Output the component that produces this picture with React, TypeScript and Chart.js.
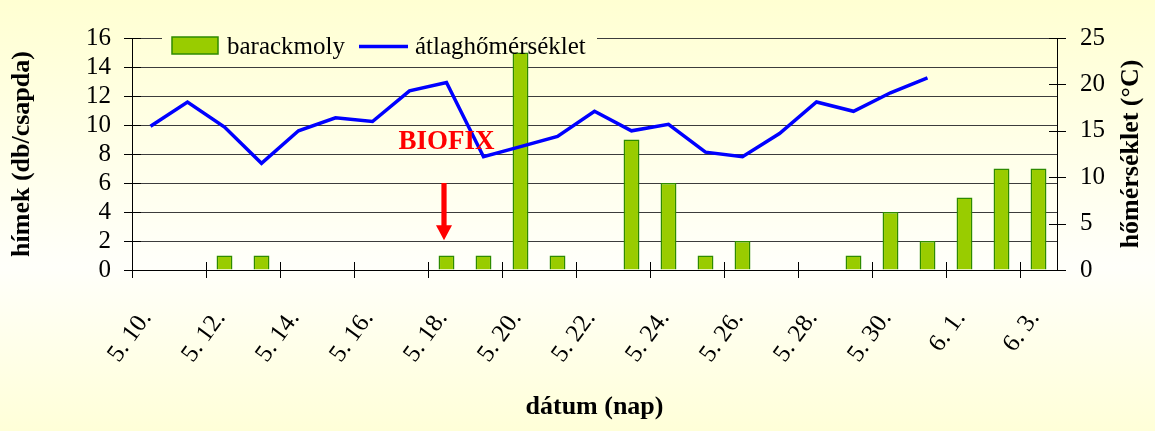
import React, { useEffect, useRef } from 'react';
import { Chart, registerables } from 'chart.js';

Chart.register(...registerables);

// ---- data ----
const dates = [
  '5. 10.', '5. 11.', '5. 12.', '5. 13.', '5. 14.', '5. 15.', '5. 16.', '5. 17.', '5. 18.', '5. 19.',
  '5. 20.', '5. 21.', '5. 22.', '5. 23.', '5. 24.', '5. 25.', '5. 26.', '5. 27.', '5. 28.', '5. 29.',
  '5. 30.', '5. 31.', '6. 1.', '6. 2.', '6. 3.',
];
const mothCounts = [0, 0, 1, 1, 0, 0, 0, 0, 1, 1, 15, 1, 0, 9, 6, 1, 2, 0, 0, 1, 4, 2, 5, 7, 7];
const avgTemps = [
  15.5, 18.1, 15.4, 11.5, 15.0, 16.4, 16.0, 19.3, 20.2, 12.2,
  13.3, 14.4, 17.1, 15.0, 15.7, 12.7, 12.2, 14.7, 18.1, 17.1,
  19.1, 20.7, null, null, null,
];
const countTicks = [0, 2, 4, 6, 8, 10, 12, 14, 16];
const tempTicks = [0, 5, 10, 15, 20, 25];
const biofixIndex = 8; // 5. 18.
const biofixLabel = 'BIOFIX';
const seriesNames = ['barackmoly', 'átlaghőmérséklet'];

// ---- styles ----
const FONT = 'Liberation Serif';
const BAR_FILL = '#99CC00';
const BAR_BORDER = '#2E8B00';
const LINE_COLOR = '#0000FF';
const GRID_COLOR = '#3C3C3C';
const BG_STOPS: [number, string][] = [
  [0, '#FFFFD2'],
  [0.62, '#FFFFFA'],
  [1, '#FFFFD8'],
];

const decorPlugin = {
  id: 'decor',
  beforeDatasetsDraw(chart: any) {
    const { ctx } = chart;
    ctx.save();
    const g = ctx.createLinearGradient(0, 0, 0, chart.height);
    BG_STOPS.forEach(([o, c]) => g.addColorStop(o, c));
    ctx.fillStyle = g;
    ctx.fillRect(162, 28, 435, 38);
    ctx.restore();
  },
  afterDatasetsDraw(chart: any) {
    const { ctx, scales } = chart;
    const x = scales.x;
    const y = scales.y;
    const y2 = scales.y2;
    ctx.save();
    // tick marks crossing the axes
    ctx.strokeStyle = '#000';
    ctx.lineWidth = 1;
    ctx.beginPath();
    y.ticks.forEach((t: any) => {
      const py = Math.round(y.getPixelForValue(t.value)) + 0.5;
      ctx.moveTo(y.right - 8, py);
      ctx.lineTo(y.right + 9, py);
    });
    y2.ticks.forEach((t: any) => {
      const py = Math.round(y2.getPixelForValue(t.value)) + 0.5;
      ctx.moveTo(y2.left - 8, py);
      ctx.lineTo(y2.left + 9, py);
    });
    const half = (x.getPixelForValue(1) - x.getPixelForValue(0)) / 2;
    for (let i = 0; i < dates.length; i += 2) {
      const px = Math.round(x.getPixelForValue(i) - half) + 0.5;
      ctx.moveTo(px, x.top - 8);
      ctx.lineTo(px, x.top + 8);
    }
    ctx.stroke();

    // legend
    ctx.fillStyle = BAR_FILL;
    ctx.strokeStyle = BAR_BORDER;
    ctx.lineWidth = 1.5;
    ctx.fillRect(172, 37, 46, 17);
    ctx.strokeRect(172, 37, 46, 17);
    ctx.font = `25px "${FONT}"`;
    ctx.fillStyle = '#000';
    ctx.textAlign = 'left';
    ctx.textBaseline = 'alphabetic';
    ctx.fillText(seriesNames[0], 227, 54);
    ctx.strokeStyle = LINE_COLOR;
    ctx.lineWidth = 3.5;
    ctx.beginPath();
    ctx.moveTo(359, 46.5);
    ctx.lineTo(408, 46.5);
    ctx.stroke();
    ctx.fillText(seriesNames[1], 415, 54);

    // BIOFIX annotation
    const bx = x.getPixelForValue(biofixIndex);
    ctx.fillStyle = '#FF0000';
    ctx.font = `bold 27px "${FONT}"`;
    ctx.textAlign = 'center';
    ctx.fillText(biofixLabel, bx, y.getPixelForValue(8.35));
    const ax = bx - 2.5;
    const top = y.getPixelForValue(6);
    const tip = y.getPixelForValue(2.05);
    ctx.fillRect(ax - 2.6, top, 5.2, tip - top - 12);
    ctx.beginPath();
    ctx.moveTo(ax - 8, tip - 15);
    ctx.lineTo(ax + 8, tip - 15);
    ctx.lineTo(ax, tip);
    ctx.closePath();
    ctx.fill();
    ctx.restore();
  },
  afterDraw(chart: any) {
    const { ctx, scales } = chart;
    const y = scales.y;
    ctx.save();
    ctx.translate(1131, (y.top + y.bottom) / 2);
    ctx.rotate(-Math.PI / 2);
    ctx.font = `bold 26px "${FONT}"`;
    ctx.fillStyle = '#000';
    ctx.textAlign = 'center';
    ctx.textBaseline = 'middle';
    ctx.fillText('hőmérséklet (°C)', 0, 0);
    ctx.restore();
  },
};

export default function App() {
  const ref = useRef<HTMLCanvasElement | null>(null);

  useEffect(() => {
    if (!ref.current) return;
    Chart.defaults.font.family = FONT;
    Chart.defaults.color = '#000';
    const chart = new Chart(ref.current, {
      type: 'bar',
      data: {
        labels: dates,
        datasets: [
          {
            type: 'line',
            label: seriesNames[1],
            data: avgTemps,
            yAxisID: 'y2',
            borderColor: LINE_COLOR,
            borderWidth: 3.5,
            pointRadius: 0,
            tension: 0,
            spanGaps: false,
            order: 0,
          } as any,
          {
            type: 'bar',
            label: seriesNames[0],
            data: mothCounts,
            yAxisID: 'y',
            backgroundColor: BAR_FILL,
            borderColor: BAR_BORDER,
            borderWidth: 1.5,
            barPercentage: 0.43,
            categoryPercentage: 1,
            order: 1,
          },
        ],
      },
      options: {
        responsive: false,
        animation: false,
        layout: { padding: { top: 21, left: 0, right: 0, bottom: 0 } },
        plugins: { legend: { display: false }, tooltip: { enabled: false } },
        scales: {
          x: {
            type: 'category',
            offset: true,
            grid: { display: false, drawTicks: false },
            border: { display: true, color: '#000', width: 1 },
            ticks: {
              autoSkip: false,
              minRotation: 54,
              maxRotation: 54,
              padding: 35,
              labelOffset: -4,
              font: { size: 25, family: FONT },
              color: '#000',
              callback: (_v: any, i: number) => (i % 2 === 0 ? dates[i] : ''),
            },
            title: {
              display: true,
              text: 'dátum (nap)',
              font: { size: 26, weight: 'bold', family: FONT },
              color: '#000',
              padding: { top: 4, bottom: 8 },
            },
            afterFit: (s: any) => {
              s.height = 161;
            },
          },
          y: {
            position: 'left',
            min: countTicks[0],
            max: countTicks[countTicks.length - 1],
            afterBuildTicks: (s: any) => {
              s.ticks = countTicks.map((v) => ({ value: v }));
            },
            grid: { color: GRID_COLOR, lineWidth: 1, drawTicks: false },
            border: { display: true, color: '#000', width: 1 },
            ticks: { autoSkip: false, padding: 21, font: { size: 25, family: FONT }, color: '#000' },
            title: {
              display: true,
              text: 'hímek (db/csapda)',
              font: { size: 26, weight: 'bold', family: FONT },
              color: '#000',
              padding: { top: 7, bottom: 0 },
            },
            afterFit: (s: any) => {
              s.width = 132;
            },
          },
          y2: {
            position: 'right',
            min: tempTicks[0],
            max: tempTicks[tempTicks.length - 1],
            afterBuildTicks: (s: any) => {
              s.ticks = tempTicks.map((v) => ({ value: v }));
            },
            grid: { drawOnChartArea: false, drawTicks: false },
            border: { display: true, color: '#000', width: 1 },
            ticks: { autoSkip: false, padding: 23, font: { size: 25, family: FONT }, color: '#000' },
            afterFit: (s: any) => {
              s.width = 98;
            },
          },
        },
      } as any,
      plugins: [decorPlugin],
    });
    return () => chart.destroy();
  }, []);

  const bg = `linear-gradient(to bottom, ${BG_STOPS.map(([o, c]) => `${c} ${o * 100}%`).join(', ')})`;

  return (
    <div style={{ position: 'absolute', left: 0, top: 0, width: 1155, height: 431, background: bg }}>
      <canvas ref={ref} width={1155} height={431} style={{ display: 'block', width: 1155, height: 431 }} />
    </div>
  );
}
